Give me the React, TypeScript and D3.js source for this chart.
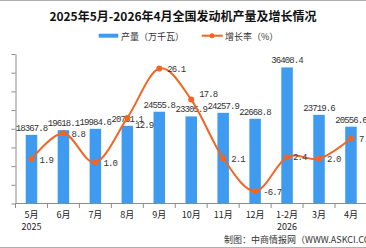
import React, { useEffect, useRef } from "react";
import * as d3 from "d3";

const categories = ["5月", "6月", "7月", "8月", "9月", "10月", "11月", "12月", "1-2月", "3月", "4月"];
const yearLabels = ["2025", "", "", "", "", "", "", "", "2026", "", ""];
const output = [18367.8, 19618.1, 19984.6, 20781.1, 24555.8, 23305.9, 24257.9, 22668.8, 36408.4, 23719.6, 20556.6];
const growth = [1.9, 8.8, 1.0, 12.9, 26.1, 17.8, 2.1, -6.7, 2.4, 2.0, 7.4];
const leftTicks = [0, 5000, 10000, 15000, 20000, 25000, 30000, 35000, 40000];

const W = 366;
const H = 248;
const BAR = "#3f9bf0";
const LINE = "#f26522";
const AXIS = "#8c8c8c";
const MONO = "'Liberation Mono', 'DejaVu Sans Mono', monospace";
const CJK = "'Noto Sans CJK SC', sans-serif";

// growth labels that are nudged so they clear the neighbouring bar labels
const growthLabelShift: Record<number, number> = { 3: 7, 5: -6, 8: -0.5 };

export default function App() {
  const ref = useRef<SVGSVGElement | null>(null);

  useEffect(() => {
    const svg = d3.select(ref.current);
    svg.selectAll("*").remove();

    const left = 15.5;
    const bottom = 203.5;
    const top = 54;

    const x = d3.scaleBand<string>().domain(categories).range([left, left + 31.95 * categories.length]).padding(0);
    const y = d3.scaleLinear().domain([0, 40000]).range([bottom, top]);
    const yr = d3.scaleLinear().domain([-10, 30]).range([bottom, top]);
    const cx = (c: string) => (x(c) as number) + x.bandwidth() / 2;
    const bw = x.bandwidth() * 0.36;

    // frame lines
    svg.append("line").attr("x1", 0).attr("x2", W).attr("y1", 0.5).attr("y2", 0.5).attr("stroke", "#b0b0b0");
    svg.append("line").attr("x1", 0).attr("x2", W).attr("y1", H - 0.5).attr("y2", H - 0.5).attr("stroke", "#b0b0b0");

    // title
    svg.append("text")
      .attr("x", 183).attr("y", 15).attr("text-anchor", "middle").attr("dominant-baseline", "central")
      .attr("font-family", CJK).attr("font-weight", "bold").attr("font-size", 12).attr("fill", "#111")
      .text("2025年5月-2026年4月全国发动机产量及增长情况");

    // legend
    const lg = svg.append("g");
    lg.append("rect").attr("x", 98.7).attr("y", 33.7).attr("width", 19.6).attr("height", 4).attr("fill", BAR);
    lg.append("text").attr("x", 121).attr("y", 36).attr("dominant-baseline", "central")
      .attr("font-family", CJK).attr("font-size", 9).attr("fill", "#333").text("产量（万千瓦）");
    lg.append("line").attr("x1", 201.7).attr("x2", 222.7).attr("y1", 35.7).attr("y2", 35.7)
      .attr("stroke", LINE).attr("stroke-width", 2);
    lg.append("circle").attr("cx", 212).attr("cy", 35.7).attr("r", 2.5).attr("fill", LINE);
    lg.append("text").attr("x", 225).attr("y", 36).attr("dominant-baseline", "central")
      .attr("font-family", CJK).attr("font-size", 9).attr("fill", "#333").text("增长率（%）");

    // left axis
    const ya = svg.append("g").attr("transform", `translate(${left},0)`)
      .call(d3.axisLeft(y).tickValues(leftTicks).tickSize(4).tickSizeOuter(0).tickPadding(12).tickFormat(d3.format("d")));
    ya.select(".domain").attr("stroke", AXIS);
    ya.selectAll(".tick line").attr("stroke", AXIS);
    ya.selectAll(".tick text").attr("font-family", MONO).attr("font-size", 9).attr("fill", "#333");

    // bottom axis with ticks at band boundaries
    const xa = svg.append("g").attr("transform", `translate(0,${bottom})`);
    xa.append("line").attr("x1", left).attr("x2", x.range()[1]).attr("stroke", AXIS);
    const bounds = categories.map((c) => x(c) as number).concat([x.range()[1]]);
    xa.selectAll("line.tk").data(bounds).enter().append("line").attr("class", "tk")
      .attr("x1", (d) => d).attr("x2", (d) => d).attr("y1", 0).attr("y2", 4.5).attr("stroke", AXIS);
    xa.selectAll("text.cat").data(categories).enter().append("text").attr("class", "cat")
      .attr("x", (d) => cx(d)).attr("y", 11).attr("text-anchor", "middle").attr("dominant-baseline", "central")
      .attr("font-family", CJK).attr("font-size", 9).attr("fill", "#222").text((d) => d);
    xa.selectAll("text.yr").data(categories).enter().append("text").attr("class", "yr")
      .attr("x", (d) => cx(d)).attr("y", 23).attr("text-anchor", "middle").attr("dominant-baseline", "central")
      .attr("font-family", CJK).attr("font-size", 9).attr("fill", "#222").text((_, i) => yearLabels[i]);

    // bars
    svg.selectAll("rect.bar").data(output).enter().append("rect").attr("class", "bar")
      .attr("x", (_, i) => cx(categories[i]) - bw / 2).attr("width", bw)
      .attr("y", (d) => y(d)).attr("height", (d) => bottom - y(d)).attr("fill", BAR);

    svg.selectAll("text.bl").data(output).enter().append("text").attr("class", "bl")
      .attr("x", (_, i) => cx(categories[i])).attr("y", (d) => y(d) - 4).attr("text-anchor", "middle")
      .attr("font-family", MONO).attr("font-size", 9).attr("letter-spacing", -0.9).attr("fill", "#333")
      .text((d) => d.toFixed(1));

    // growth line
    const line = d3.line<number>()
      .x((_, i) => cx(categories[i]))
      .y((d) => yr(d))
      .curve(d3.curveCardinal.tension(0));
    svg.append("path").datum(growth).attr("d", line).attr("fill", "none")
      .attr("stroke", LINE).attr("stroke-width", 2);
    svg.selectAll("circle.pt").data(growth).enter().append("circle").attr("class", "pt")
      .attr("cx", (_, i) => cx(categories[i])).attr("cy", (d) => yr(d)).attr("r", 3).attr("fill", LINE);
    svg.selectAll("text.gl").data(growth).enter().append("text").attr("class", "gl")
      .attr("x", (_, i) => cx(categories[i]) + (i === 8 ? 6 : 8))
      .attr("y", (d, i) => yr(d) + 1.5 + (growthLabelShift[i] ?? 0))
      .attr("dominant-baseline", "central")
      .attr("font-family", MONO).attr("font-size", 9).attr("letter-spacing", -0.9).attr("fill", "#333")
      .text((d) => d.toFixed(1));

    // source
    svg.append("text").attr("x", 224).attr("y", 239).attr("dominant-baseline", "central")
      .attr("font-family", CJK).attr("font-size", 9).attr("fill", "#333")
      .text("制图：中商情报网（WWW.ASKCI.COM）");
  }, []);

  return (
    <svg
      ref={ref}
      width={W}
      height={H}
      style={{ position: "absolute", left: 0, top: 0, background: "#fff" }}
    />
  );
}
